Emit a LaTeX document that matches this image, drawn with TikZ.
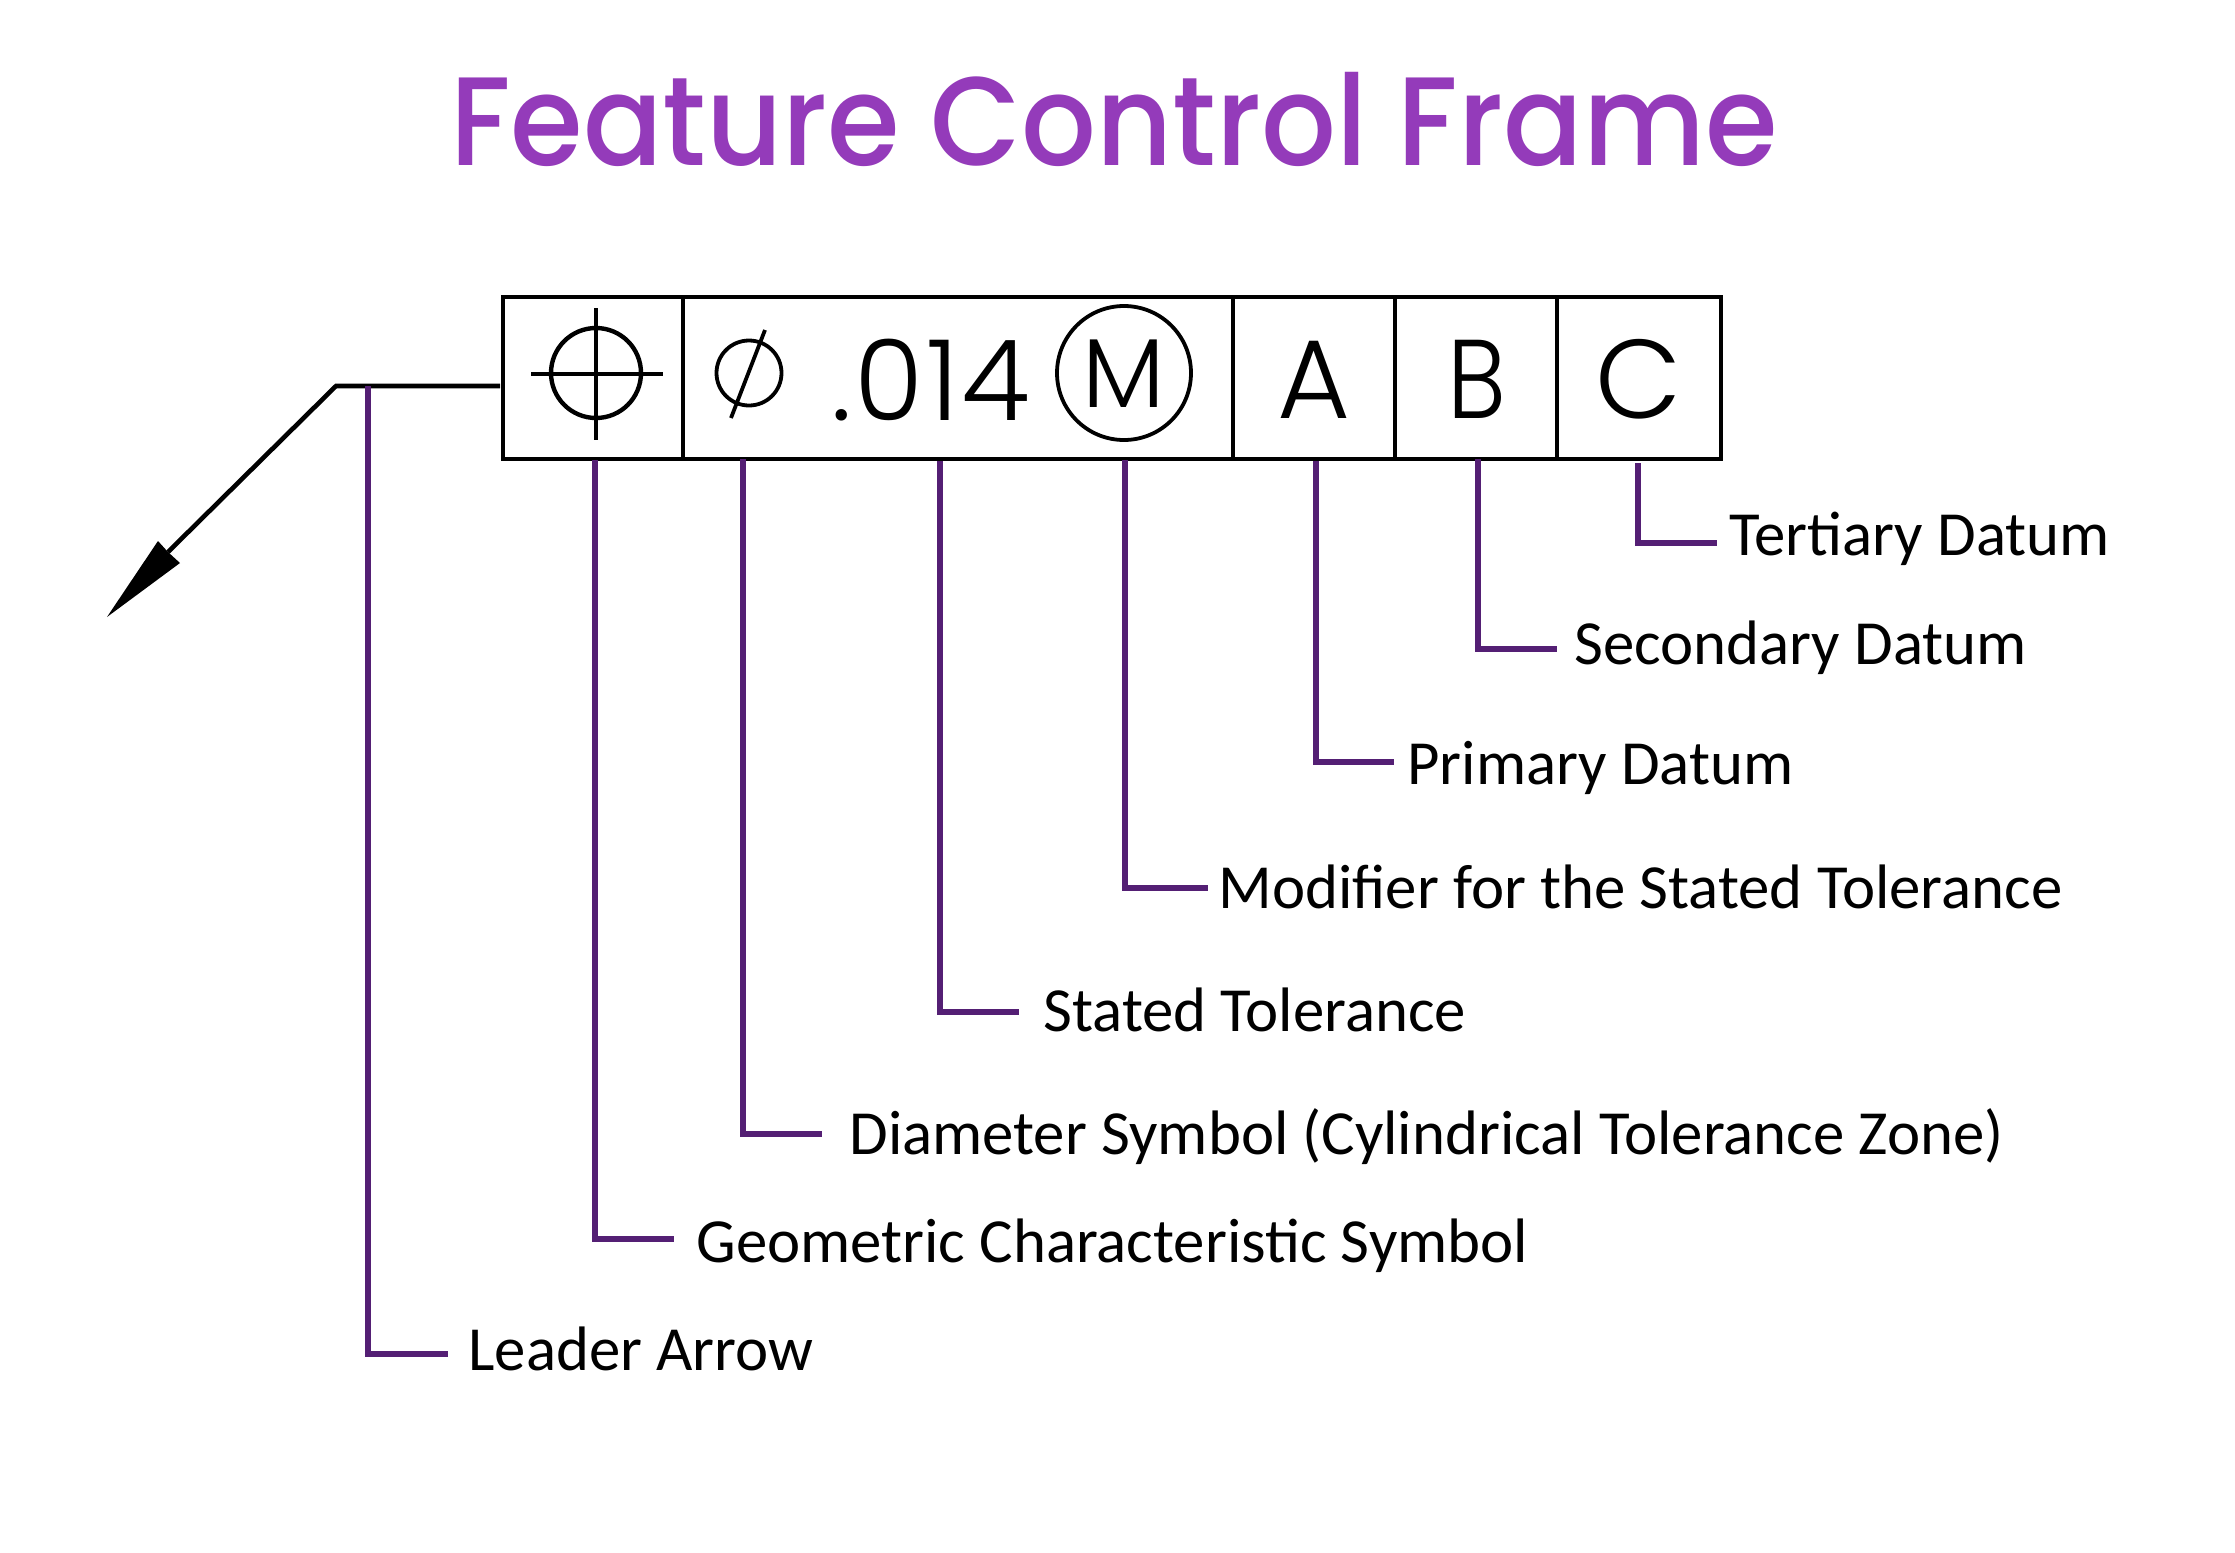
\documentclass[tikz,border=0pt]{standalone}
\usepackage{fontspec}
\setmainfont{Carlito}
\newfontfamily\titlef[FakeStretch=0.932]{Poppins Medium}
\newfontfamily\symf{Poppins Light}
\definecolor{titlepurple}{HTML}{943BBA}
\definecolor{linepurple}{HTML}{541F74}
\tikzset{
  px/.style={x=0.5pt,y=-0.5pt},
  callout/.style={anchor=base west,inner sep=0pt,font=\fontsize{31.4}{36}\selectfont,text=black},
  wire/.style={draw=linepurple,line width=2.6pt,line join=miter},
  blackline/.style={draw=black,line width=2.3pt},
  thin sym/.style={draw=black,line width=1.9pt},
  glyph/.style={inner sep=0pt,anchor=base,text=black},
}
\begin{document}
\begin{tikzpicture}[px]
\useasboundingbox (0,0) rectangle (2235,1553);
\fill[white] (0,0) rectangle (2235,1553);
\node[anchor=base,inner sep=0pt,text=titlepurple,font=\titlef\fontsize{63}{70}\selectfont] (title) at (1114,165) {Feature Control Frame};
% frame
\node[draw=black,line width=2.4pt,inner sep=0pt,outer sep=0pt,minimum width=609pt,minimum height=81pt,anchor=north west] (frame) at (503,297) {};
\foreach \x/\n in {683/d1,1233/d2,1395/d3,1557/d4}{
  \coordinate (\n t) at (\x,297); \coordinate (\n b) at (\x,459);
  \draw[blackline,line width=1.7pt] (\n t) -- (\n b);
}
% leader
\coordinate (corner) at (336,386);
\coordinate (lend) at (500,386);
\coordinate (tip) at (107,617);
\coordinate (barbA) at (158,541);
\coordinate (barbB) at (180,563);
\coordinate (notch) at (168,552);
\draw[blackline,line join=miter] (lend) -- (corner) -- (notch);
\fill[black] (tip) -- (barbA) -- (notch) -- (barbB) -- cycle;
% position symbol
\coordinate (pc) at (596,373);
\draw[thin sym,line width=2.2pt] (pc) circle[radius=45];
\coordinate (pT) at (596,308); \coordinate (pB) at (596,440);
\coordinate (pL) at (531,374); \coordinate (pR) at (663,374);
\draw[thin sym] (pT) -- (pB);
\draw[thin sym,line width=2.4pt] (pL) -- (pR);
% diameter
\coordinate (dc) at (749,373);
\draw[thin sym] (dc) circle[radius=32.5];
\coordinate (dA) at (731,418); \coordinate (dB) at (765,330);
\draw[thin sym] (dA) -- (dB);
% tolerance text
\node[glyph,font=\symf\fontsize{56}{60}\selectfont\addfontfeature{LetterSpace=2.5}] (tol) at (931,420) {.014};
% M
\coordinate (mc) at (1124,373);
\draw[thin sym] (mc) circle[radius=67];
\node[glyph,font=\symf\fontsize{49}{52}\selectfont] (M) at (1124,407) {M};
\node[glyph,font=\symf\fontsize{56}{60}\selectfont] (A) at (1314,418) {A};
\node[glyph,font=\symf\fontsize{56}{60}\selectfont\addfontfeature{FakeStretch=0.88}] (B) at (1477,418) {B};
\node[glyph,font=\symf\fontsize{56}{60}\selectfont] (C) at (1639,418) {C};
% labels
\node[callout] (lT) at (1729,555) {Tertiary Datum};
\node[callout] (lS) at (1574,664) {Secondary Datum};
\node[callout] (lP) at (1407,784) {Primary Datum};
\node[callout] (lM) at (1218,908) {Modifier for the Stated Tolerance};
\node[callout] (lST) at (1043,1031) {Stated Tolerance};
\node[callout] (lD) at (849,1154) {Diameter Symbol (Cylindrical Tolerance Zone)};
\node[callout] (lG) at (696,1262) {Geometric Characteristic Symbol};
\node[callout] (lL) at (468,1370) {Leader Arrow};
% connectors
\foreach \n/\x/\yt/\yb/\xe in {
  T/1638/463/543/1717,
  S/1478/459/649/1557,
  P/1316/461/762/1394,
  M/1125/460/888/1208,
  ST/940/461/1012/1019,
  D/743/459/1134/822,
  G/595/460/1239/674,
  L/368/386/1354/448}{
  \coordinate (s\n) at (\x,\yt);
  \coordinate (e\n) at (\xe,\yb);
  \draw[wire] (s\n) |- (e\n);
}
\end{tikzpicture}
\end{document}
